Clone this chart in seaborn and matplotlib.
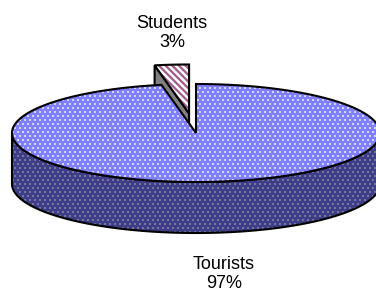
"""
3D-style pie: Tourists vs Students share (Excel look), drawn with matplotlib patches.
"""

import numpy as np
import matplotlib
matplotlib.use("Agg")
import matplotlib.pyplot as plt
from matplotlib.patches import Polygon
import seaborn as sns

# data
labels = ["Tourists", "Students"]
values = [97, 3]
pct_text = ["97%", "3%"]

sns.set_theme(style="white")
plt.rcParams["font.family"] = ["Liberation Sans", "DejaVu Sans"]
plt.rcParams["hatch.linewidth"] = 1.6

# ellipse geometry (pixels, y down)
CX, CY, RX, RY, DEPTH = 196, 133, 184, 49, 51
EXPLODE = {"Students": 0.4}

TOP = {"Tourists": "#8080ff", "Students": "#ffffff"}
SIDE = {"Tourists": "#3e3e88", "Students": "#808080"}


def pt(theta, dz=0.0, off=(0.0, 0.0)):
    t = np.deg2rad(theta)
    return (CX + RX * np.cos(t) + off[0], CY - RY * np.sin(t) + dz + off[1])


def arc(t0, t1, dz=0.0, off=(0.0, 0.0), n=200):
    ts = np.linspace(t0, t1, n)
    return [pt(t, dz, off) for t in ts]


def add_dots(ax, patch, color, z):
    xs, ys = [], []
    for j, y in enumerate(np.arange(0, 310, 4.0)):
        x0 = 2.5 if j % 2 else 0.0
        for x in np.arange(x0, 385, 5.0):
            xs.append(x)
            ys.append(y)
    sc = ax.scatter(xs, ys, s=4.0, marker="s", color=color, linewidths=0, zorder=z)
    sc.set_clip_path(patch)


fig = plt.figure(figsize=(3.76, 3.05), dpi=100)
ax = fig.add_axes([0, 0, 1, 1])
ax.set_xlim(0, 376)
ax.set_ylim(305, 0)
ax.axis("off")

# slice angles: clockwise from 12 o'clock
fracs = np.array(values) / np.sum(values)
starts = 90 - 360 * np.concatenate([[0], np.cumsum(fracs)[:-1]])
ends = starts - 360 * fracs

for lab, a0, a1 in zip(labels, starts, ends):
    lo, hi = min(a0, a1), max(a0, a1)
    e = EXPLODE.get(lab, 0.0)
    mid = np.deg2rad((lo + hi) / 2)
    off = (e * RX * np.cos(mid), -e * RY * np.sin(mid))

    if lab == "Students":
        # radial face on the counter-clockwise edge
        face = [(CX + off[0], CY + off[1]), pt(hi, 0, off), pt(hi, DEPTH, off),
                (CX + off[0], CY + DEPTH + off[1])]
        ax.add_patch(Polygon(face, closed=True, facecolor=SIDE[lab], edgecolor="black",
                             lw=1.5, zorder=1))
        top = [(CX + off[0], CY + off[1])] + arc(lo, hi, 0, off)
        ax.add_patch(Polygon(top, closed=True, facecolor=TOP[lab], edgecolor="#a05a8c",
                             hatch="\\\\\\\\\\", lw=0, zorder=2))
        ax.add_patch(Polygon(top, closed=True, facecolor="none", edgecolor="black",
                             lw=1.5, zorder=2.5))
    else:
        # front side wall
        side = arc(180, 360) + arc(360, 180, DEPTH)
        ps = Polygon(side, closed=True, facecolor=SIDE[lab], edgecolor="none", zorder=3)
        ax.add_patch(ps)
        add_dots(ax, ps, "#76769e", 3.1)
        ax.add_patch(Polygon(side, closed=True, facecolor="none", edgecolor="black",
                             lw=1.5, zorder=3.2))
        top = [(CX, CY)] + arc(lo, hi)
        ptch = Polygon(top, closed=True, facecolor=TOP[lab], edgecolor="none", zorder=4)
        ax.add_patch(ptch)
        add_dots(ax, ptch, "#d4d4ff", 4.1)
        ax.add_patch(Polygon(top, closed=True, facecolor="none", edgecolor="black",
                             lw=1.5, zorder=4.2))

# labels
ax.text(172, 33, f"{labels[1]}\n{pct_text[1]}", ha="center", va="center",
        fontsize=13, color="black", linespacing=1.22)
ax.text(224, 274, f"{labels[0]}\n{pct_text[0]}", ha="center", va="center",
        fontsize=13, color="black", linespacing=1.22)

fig.savefig("out.png", dpi=100)
